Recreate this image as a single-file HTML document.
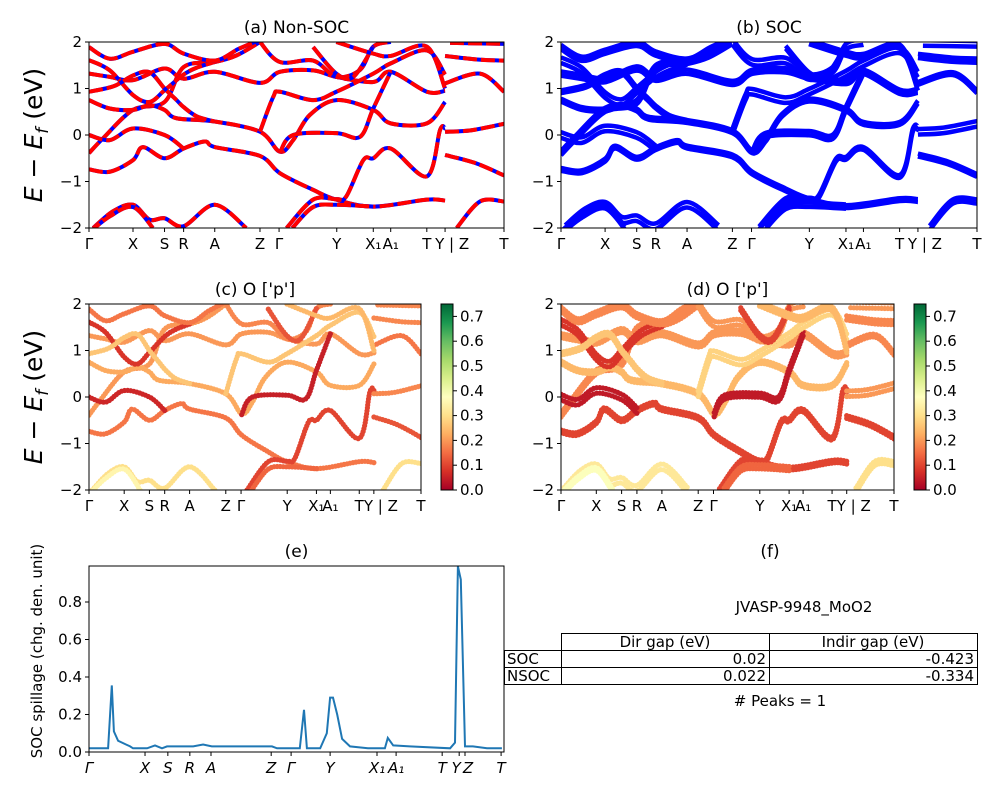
<!DOCTYPE html>
<html><head><meta charset="utf-8">
<style>
html,body{margin:0;padding:0;background:#fff;}
svg{display:block;font-family:"DejaVu Sans","Liberation Sans",sans-serif;}
</style></head>
<body>
<svg id="fig" width="1000" height="800" viewBox="0 0 1000 800" xmlns="http://www.w3.org/2000/svg">
<defs>
<linearGradient id="cmap" x1="0" y1="1" x2="0" y2="0">
<stop offset="0" stop-color="#a50026"/><stop offset="0.1" stop-color="#d73027"/><stop offset="0.2" stop-color="#f46d43"/><stop offset="0.3" stop-color="#fdae61"/><stop offset="0.4" stop-color="#fee08b"/><stop offset="0.5" stop-color="#ffffbf"/><stop offset="0.6" stop-color="#d9ef8b"/><stop offset="0.7" stop-color="#a6d96a"/><stop offset="0.8" stop-color="#66bd63"/><stop offset="0.9" stop-color="#1a9850"/><stop offset="1" stop-color="#006837"/>
</linearGradient>
</defs>
<g id="layer"></g>
<g font-size="15" fill="#000">
<text x="770" y="557" text-anchor="middle" font-size="17">(f)</text>
<text x="804" y="612" text-anchor="middle" font-size="15">JVASP-9948_MoO2</text>
<g stroke="#000" stroke-width="1" fill="none">
<rect x="561.5" y="633.5" width="416" height="17"/>
<rect x="504.5" y="650.5" width="473" height="17"/>
<rect x="504.5" y="667.5" width="473" height="17"/>
<line x1="561.5" y1="650" x2="561.5" y2="685"/>
<line x1="769.5" y1="633" x2="769.5" y2="685"/>
</g>
<text x="665" y="647" text-anchor="middle">Dir gap (eV)</text>
<text x="873" y="647" text-anchor="middle">Indir gap (eV)</text>
<text x="507" y="664">SOC</text>
<text x="766" y="664" text-anchor="end">0.02</text>
<text x="974" y="664" text-anchor="end">-0.423</text>
<text x="507" y="681">NSOC</text>
<text x="766" y="681" text-anchor="end">0.022</text>
<text x="974" y="681" text-anchor="end">-0.334</text>
<text x="780" y="706" text-anchor="middle">&#35; Peaks = 1</text>
</g>
</svg>
<script>
// ---------- DATA ----------
const kTicks = [0, .106, .182, .228, .303, .412, .458, .597, .685, .727, .814, .858, 1];
const kLabels = ["Γ","X","S","R","A","Z","Γ","Y","X₁","A₁","T","Y | Z","T"];
const eTicks = [-2, -1, 0, 1, 2];
const cbTicks = [0.0, 0.1, 0.2, 0.3, 0.4, 0.5, 0.6, 0.7];
const bands = [
 [[0,-.74],[.05,-.79],[.106,-.54],[.13,-.26],[.182,-.5],[.228,-.29],[.279,-.14],[.303,-.26],[.412,-.45],[.46,-.82],[.54,-1.18],[.596,-1.39],[.685,-1.54],[.814,-1.39],[.858,-1.41]],
 [[0,-.39],[.034,-.07],[.106,.54],[.182,.71],[.228,1.46],[.303,1.57],[.355,1.71],[.412,2.0]],
 [[0,0],[.05,-.11],[.106,.14],[.182,0],[.228,-.29]],
 [[0,.75],[.05,.57],[.106,.54],[.146,.64],[.182,.54],[.211,.36],[.303,.29],[.412,.07],[.46,-.36],[.492,-.11],[.532,.43],[.596,.75],[.685,.54],[.727,.25],[.814,.25],[.858,.71]],
 [[0,1.32],[.05,1.25],[.106,1.18],[.182,1.43],[.228,1.21],[.303,1.36],[.412,1.12],[.46,1.36],[.54,1.39],[.596,1.25],[.685,1.14],[.727,1.36],[.814,.93],[.858,.95]],
 [[0,1.61],[.05,1.39],[.106,.86],[.146,.71],[.182,.96],[.228,1.3],[.26,1.45],[.303,1.57]],
 [[0,.93],[.06,1.05],[.106,1.28],[.146,1.35],[.182,1.0],[.211,.75],[.228,.6],[.26,.4],[.303,.29]],
 [[.46,-.38],[.492,0],[.596,.04],[.653,-.04],[.685,.57],[.727,1.36]],
 [[.412,.07],[.444,.82],[.46,.93],[.54,.75],[.596,.93],[.685,1.32],[.727,1.54],[.814,1.82],[.858,1.3]],
 [[.476,-2],[.54,-1.39],[.596,-1.38],[.62,-1.32],[.661,-.54],[.685,-.5],[.727,-.29],[.814,-.89],[.846,.11],[.858,.14]],
 [[.49,-2],[.54,-1.55],[.596,-1.5],[.685,-1.54]],
 [[.858,.07],[.92,.1],[1,.24]],
 [[.858,1.11],[.942,1.32],[1,.93]],
 [[.886,-2],[.942,-1.43],[1,-1.43]],
 [[.87,1.98],[1,1.96]],
 [[.858,-.43],[.93,-.6],[1,-.87]],
 [[.858,1.7],[.94,1.62],[1,1.6]],
 [[.01,-2],[.058,-1.64],[.106,-1.5],[.146,-1.82],[.182,-1.79],[.228,-1.96],[.303,-1.5],[.379,-2]],
 [[0,-2.1],[.05,-1.75],[.106,-1.55],[.154,-2]],
 [[0,1.89],[.05,1.64],[.106,1.79],[.182,1.96],[.228,1.75],[.303,1.6],[.36,1.85],[.4,2]],
 [[.412,2],[.46,1.57],[.54,1.6],[.596,1.25],[.653,1.4],[.685,1.9],[.727,2]],
 [[.54,1.89],[.596,1.32],[.637,1.25],[.685,1.9]],
 [[.596,2],[.685,1.75],[.727,1.7],[.814,1.9],[.858,1.0]]
];
const weightsC = [0.16,0.2,0.06,0.22,0.2,0.08,0.26,0.05,0.26,0.1,0.14,0.18,0.16,0.3,0.18,0.12,0.18,0.3,0.35,0.16,0.18,0.12,0.24];
const weightsD = [0.1,0.18,0.04,0.24,0.2,0.08,0.26,0.04,0.28,0.1,0.14,0.2,0.18,0.3,0.2,0.1,0.18,0.32,0.38,0.18,0.2,0.1,0.24];
const spillK = [0,.046,.055,.060,.070,.099,.106,.140,.159,.176,.188,.251,.275,.296,.441,.453,.508,.518,.525,.557,.573,.581,.588,.598,.610,.629,.672,.713,.720,.733,.773,.870,.882,.889,.896,.906,.925,.959,.995];
const spillV = [.02,.02,.355,.11,.06,.03,.02,.02,.035,.02,.03,.03,.04,.03,.03,.02,.02,.225,.02,.02,.1,.29,.29,.2,.07,.03,.02,.02,.075,.035,.03,.02,.05,.99,.92,.03,.03,.02,.02];
const spillYTicks = [0.0, 0.2, 0.4, 0.6, 0.8];
const spillXTicks = [0,.135,.19,.243,.294,.439,.487,.581,.694,.740,.851,.892,.906,.993];
const spillXLabels = ["Γ","X","S","R","A","Z","Γ","Y","X₁","A₁","T","Y","Z","T"];

// ---------- HELPERS ----------
const NS="http://www.w3.org/2000/svg";
const root=document.getElementById('layer');
function mk(tag,attrs,parent){const e=document.createElementNS(NS,tag);for(const k in attrs)e.setAttribute(k,attrs[k]);(parent||root).appendChild(e);return e;}
const cmStops=[[0,[165,0,38]],[.1,[215,48,39]],[.2,[244,109,67]],[.3,[253,174,97]],[.4,[254,224,139]],[.5,[255,255,191]],[.6,[217,239,139]],[.7,[166,217,106]],[.8,[102,189,99]],[.9,[26,152,80]],[1,[0,104,55]]];
function cmap(v){let t=Math.max(0,Math.min(1,v/0.75));for(let i=1;i<cmStops.length;i++){if(t<=cmStops[i][0]){const a=cmStops[i-1],b=cmStops[i];const f=(t-a[0])/(b[0]-a[0]);const c=a[1].map((x,j)=>Math.round(x+(b[1][j]-x)*f));return `rgb(${c})`;}}return 'rgb(0,104,55)';}
function smooth(pts){let d=`M${pts[0][0]},${pts[0][1]}`;for(let i=0;i<pts.length-1;i++){const p0=pts[i-1]||pts[i],p1=pts[i],p2=pts[i+1],p3=pts[i+2]||p2;const c1=[p1[0]+(p2[0]-p0[0])/6,p1[1]+(p2[1]-p0[1])/6],c2=[p2[0]-(p3[0]-p1[0])/6,p2[1]-(p3[1]-p1[1])/6];d+=`C${c1[0]},${c1[1]} ${c2[0]},${c2[1]} ${p2[0]},${p2[1]}`;}return d;}

function bandPanel(id,x0,x1,y0,y1,title,mode,showYLabel){
  const g=mk('g',{});
  
  
  const clipId='clip-'+id;
  const cp=mk('clipPath',{id:clipId},g);mk('rect',{x:x0,y:y0,width:x1-x0,height:y1-y0},cp);
  const xs=k=>x0+k*(x1-x0), ys=E=>y0+(2-E)/4*(y1-y0);
  const bg=mk('g',{'clip-path':`url(#${clipId})`},g);
  bands.forEach((b,i)=>{
    const offs=(mode==='soc'||mode==='dotsoc')?[-0.03,0.03]:[0];
    offs.forEach(o=>{
      const pts=b.map(p=>[xs(p[0]),ys(p[1]+o*(1+((i%3)*0.5)))]);
      const d=smooth(pts);
      if(mode==='nsoc'){
        const l1=mk('path',{d,fill:'none',stroke:'#0000ff','stroke-width':4},bg);
        
        
        const l2=mk('path',{d,fill:'none',stroke:'#ff0000','stroke-width':4,'stroke-dasharray':'14 4'},bg);
        
        
      } else if(mode==='soc'){
        const l=mk('path',{d,fill:'none',stroke:'#0000ff','stroke-width':4.5},bg);
        
        
      } else {
        const w=(mode==='dot'?weightsC:weightsD)[i];
        const tmp=mk('path',{d,fill:'none',stroke:'none'},bg);
        const L=tmp.getTotalLength();
        const n=Math.max(2,Math.floor(L/3));
        const dg=mk('g',{fill:cmap(w)},bg);
        
        
        for(let j=0;j<=n;j++){const p=tmp.getPointAtLength(L*j/n);mk('circle',{cx:p.x.toFixed(1),cy:p.y.toFixed(1),r:2.6},dg);}
        tmp.remove();
      }
    });
  });
  const fr=mk('rect',{x:x0,y:y0,width:x1-x0,height:y1-y0,fill:'none',stroke:'#000','stroke-width':1},g);
  
  
  kTicks.forEach((k,i)=>{
    const x=xs(k);
    mk('line',{x1:x,y1:y1,x2:x,y2:y1+4,stroke:'#000'},g);
    const t=mk('text',{x:(i===11?x-10:x),y:y1+21,'text-anchor':(i===11?'start':'middle'),'font-size':15},g);
    t.textContent=kLabels[i];
    
    
  });
  eTicks.forEach(E=>{
    const y=ys(E);
    mk('line',{x1:x0-4,y1:y,x2:x0,y2:y,stroke:'#000'},g);
    const t=mk('text',{x:x0-7,y:y+5,'text-anchor':'end','font-size':15},g);
    t.textContent=String(E).replace('-','−');
    
    
  });
  const tt=mk('text',{x:(x0+x1)/2,y:y0-9,'text-anchor':'middle','font-size':17},g);
  tt.textContent=title;
  
  
  if(showYLabel){
    const yl=mk('text',{x:0,y:0,'text-anchor':'middle','font-size':25,transform:`translate(42,${(y0+y1)/2}) rotate(-90)`},g);
    yl.innerHTML='<tspan font-style="italic">E</tspan> − <tspan font-style="italic">E</tspan><tspan font-size="17" dy="6" font-style="italic">f</tspan><tspan dy="-6"> (eV)</tspan>';
    
    
  }
}
function colorbar(id,x0,y0,y1){
  const g=mk('g',{});
  
  
  mk('rect',{x:x0,y:y0,width:12,height:y1-y0,fill:'url(#cmap)',stroke:'#000','stroke-width':1},g);
  cbTicks.forEach(v=>{
    const y=y1-v/0.75*(y1-y0);
    mk('line',{x1:x0+12,y1:y,x2:x0+16,y2:y,stroke:'#000'},g);
    const t=mk('text',{x:x0+19,y:y+5,'font-size':15},g);
    t.textContent=v.toFixed(1);
    
    
  });
}
bandPanel('panel-a-nonsoc',89,504,42,228,'(a) Non-SOC','nsoc',true);
bandPanel('panel-b-soc',561,977,42,228,'(b) SOC','soc',false);
bandPanel('panel-c-op',89,421,304,490,"(c)  O ['p']",'dot',true);
bandPanel('panel-d-op',561,894,304,490,"(d) O ['p']",'dotsoc',false);
colorbar('colorbar-c',441,304,490);
colorbar('colorbar-d',914,304,490);

(function(){
  const x0=89,x1=504,y0=566,y1=752;
  const g=mk('g',{});
  
  
  const xs=k=>x0+k*(x1-x0), ys=v=>y1-v/0.2*37.5;
  const d=spillK.map((k,i)=>(i?'L':'M')+xs(k).toFixed(1)+','+ys(spillV[i]).toFixed(1)).join('');
  const cp=mk('clipPath',{id:'clip-e'},g);mk('rect',{x:x0,y:y0,width:x1-x0,height:y1-y0},cp);
  const line=mk('path',{d,fill:'none',stroke:'#1f77b4','stroke-width':2,'clip-path':'url(#clip-e)'},g);
  
  
  mk('rect',{x:x0,y:y0,width:x1-x0,height:y1-y0,fill:'none',stroke:'#000'},g);
  spillYTicks.forEach(v=>{
    const y=ys(v);
    mk('line',{x1:x0-4,y1:y,x2:x0,y2:y,stroke:'#000'},g);
    const t=mk('text',{x:x0-7,y:y+5,'text-anchor':'end','font-size':15},g);
    t.textContent=v.toFixed(1);
    
    
  });
  spillXTicks.forEach((k,i)=>{
    const x=xs(k);
    mk('line',{x1:x,y1:y1,x2:x,y2:y1+4,stroke:'#000'},g);
    const t=mk('text',{x:x+(i===11?-3:(i===12?3:0)),y:y1+21,'text-anchor':'middle','font-size':15,'font-style':'italic'},g);
    t.textContent=spillXLabels[i];
    
    
  });
  const tt=mk('text',{x:(x0+x1)/2,y:y0-9,'text-anchor':'middle','font-size':17},g);
  tt.textContent='(e)';
  
  
  const yl=mk('text',{x:0,y:0,'text-anchor':'middle','font-size':15,transform:`translate(42,${(y0+y1)/2-8}) rotate(-90)`},g);
  yl.textContent='SOC spillage (chg. den. unit)';
  
  
})();
</script>
</body></html>
